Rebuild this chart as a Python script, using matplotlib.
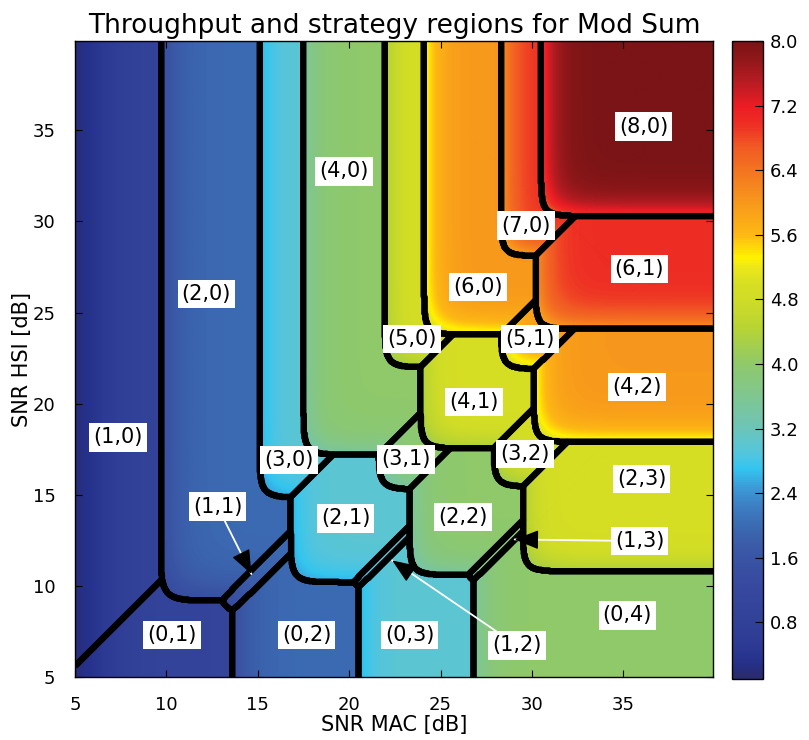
import numpy as np
import matplotlib
matplotlib.use("Agg")
import matplotlib.pyplot as plt
from matplotlib.colors import LinearSegmentedColormap, Normalize
from matplotlib.ticker import FormatStrFormatter

# strategies (a, b); the rate of a strategy is a + b
strat_a = [1, 0, 2, 1, 0, 3, 2, 1, 0, 4, 3, 2, 1, 0, 5, 4, 3, 2, 6, 5, 4, 7, 6, 8]
strat_b = [0, 1, 0, 1, 2, 0, 1, 2, 3, 0, 1, 2, 3, 4, 0, 1, 2, 3, 0, 1, 2, 0, 1, 0]

# region edges [dB]: left edge in SNR MAC, lower edge in SNR HSI
mac_edge = [-np.inf, 6.0, 9.7, 12.88, 13.6, 15.1, 16.8, 20.0, 20.5, 17.5, 21.6, 23.3,
            26.3, 26.8, 21.95, 23.9, 27.9, 29.5, 24.1, 28.3, 30.1, 28.3, 30.2, 30.5]
hsi_edge = [6.6, -np.inf, 9.2, 8.48, -np.inf, 14.85, 10.2, 9.7, -np.inf, 17.2, 15.3, 10.6,
            10.1, -np.inf, 22.0, 17.55, 15.45, 10.8, 23.8, 21.9, 17.9, 28.1, 24.1, 30.3]

# label positions [dB]
label_x = [7.36, 10.3, 12.19, 12.8, 17.67, 16.7, 19.8, 29.19, 23.3, 19.7, 23.1, 26.23,
           35.88, 35.22, 23.43, 26.83, 29.63, 35.99, 27.05, 29.9, 35.75, 29.68, 35.88, 36.1]
label_y = [18.15, 7.31, 26.0, 14.35, 7.31, 16.9, 13.7, 6.73, 7.31, 32.74, 16.94, 13.78,
           12.46, 8.38, 23.55, 20.1, 17.25, 15.87, 26.4, 23.55, 20.93, 29.77, 27.4, 35.2]

# labels that point at thin regions
arrow_strats = [(1, 1), (1, 2), (1, 3)]
arrow_tip_x = [14.65, 22.35, 29.05]
arrow_tip_y = [10.65, 11.4, 12.55]

# colour scale
cmap_vals = [0.1, 0.3, 0.5, 0.8, 1.2, 1.6, 1.85, 2.05, 2.25, 2.45, 2.7, 2.9, 3.2, 3.6, 4.0,
             4.45, 4.8, 5.0, 5.2, 5.32, 5.6, 6.05, 6.45, 6.7, 6.95, 7.2, 7.5, 7.8, 8.0]
cmap_cols = ['#2b2a6c', '#25318a', '#2d3a94', '#324198', '#36489e', '#3a54a4', '#3b61ac',
             '#3b6fb6', '#3d80c4', '#3c98d6', '#33c5f0', '#55c6dc', '#6cc5b8', '#80c690',
             '#8fc96a', '#b8d433', '#d0dc27', '#d7df23', '#ece71a', '#fff200', '#fdb913',
             '#f7941d', '#f37021', '#f15a24', '#ee3124', '#ed1c24', '#b71c22', '#8e1719',
             '#7b1416']
vmin, vmax = 0.1, 8.0


def sig(u):
    return 0.5 * (1.0 + np.tanh(0.5 * u))


W = 0.45  # softness of the region edges
snr = np.linspace(5, 39.9, 900)
X, Y = np.meshgrid(snr, snr)
best = np.full(X.shape, -np.inf)
idx = np.zeros(X.shape, dtype=int)
thr = np.zeros(X.shape)

for k in range(len(strat_a)):
    r = strat_a[k] + strat_b[k]
    shift = W * np.log(r - 1) if r > 1 else 0.0
    mx = mac_edge[k] - shift
    hy = hsi_edge[k] - shift
    score = np.log(r) - np.logaddexp(0, -(X - mx) / W) - np.logaddexp(0, -(Y - hy) / W)
    if r == 1:
        pc = sig((X - 6.5) / 1.1)
    else:
        z, wc = (0.9, 0.9) if r == 2 else (1.8, 0.75)
        pc = sig((X - mac_edge[k]) / wc + z) * sig((Y - hsi_edge[k]) / wc + z)
    better = score > best
    best[better] = score[better]
    idx[better] = k
    thr[better] = r * pc[better]

plt.rcParams.update({
    "font.size": 13,
    "xtick.direction": "in", "ytick.direction": "in",
    "xtick.top": True, "ytick.right": True,
    "xtick.major.size": 5, "ytick.major.size": 5,
    "xtick.major.pad": 14, "ytick.major.pad": 14,
    "axes.linewidth": 1.0,
})

pos = (np.array(cmap_vals) - vmin) / (vmax - vmin)
cmap = LinearSegmentedColormap.from_list("thr", list(zip(pos, cmap_cols)))

fig = plt.figure(figsize=(8.09, 7.40), dpi=100)
ax = fig.add_axes([0.0927, 0.0851, 0.7886, 0.8595])
cax = fig.add_axes([0.9048, 0.0824, 0.0383, 0.8622])

im = ax.imshow(thr, origin="lower", extent=(5, 39.9, 5, 39.9), cmap=cmap,
               norm=Normalize(vmin, vmax), aspect="auto", interpolation="bilinear")
for k in range(len(strat_a)):
    ax.contour(snr, snr, (idx == k).astype(float), levels=[0.5], colors="k",
               linewidths=4.5)

box = dict(boxstyle="square,pad=0.2", fc="white", ec="none")
for k in range(len(strat_a)):
    s = (strat_a[k], strat_b[k])
    txt = "(%d,%d)" % s
    if s in arrow_strats:
        j = arrow_strats.index(s)
        tip = np.array([arrow_tip_x[j], arrow_tip_y[j]])
        lab = np.array([label_x[k], label_y[k]])
        ax.annotate(txt, xy=tip, xytext=lab, ha="center", va="center", fontsize=15,
                    bbox=box, zorder=5,
                    arrowprops=dict(arrowstyle="-", color="white", lw=1.3,
                                    shrinkA=0, shrinkB=0))
        u = (lab - tip) / np.hypot(*(lab - tip))
        ax.annotate("", xy=tip, xytext=tip + 0.8 * u, zorder=6,
                    arrowprops=dict(arrowstyle="-|>,head_length=1.0,head_width=0.4",
                                    color="black", lw=1, shrinkA=0, shrinkB=0,
                                    mutation_scale=15))
    else:
        ax.text(label_x[k], label_y[k], txt, ha="center", va="center", fontsize=15,
                bbox=box, zorder=5)

ax.set_xlim(5, 39.9)
ax.set_ylim(5, 39.9)
ax.set_xticks(range(5, 40, 5))
ax.set_yticks(range(5, 40, 5))
ax.set_xlabel("SNR MAC [dB]", fontsize=15)
ax.xaxis.set_label_coords(0.5, -0.059)
ax.set_ylabel("SNR HSI [dB]", fontsize=15)
ax.yaxis.set_label_coords(-0.068, 0.5)
ax.set_title("Throughput and strategy regions for Mod Sum", fontsize=19)

cbar = fig.colorbar(im, cax=cax, ticks=np.round(np.arange(1, 11) * 0.8, 1))
cbar.ax.yaxis.set_major_formatter(FormatStrFormatter("%.1f"))
cbar.ax.tick_params(direction="in", length=6, right=True, left=False, pad=5)

fig.savefig("out.png", dpi=100)
